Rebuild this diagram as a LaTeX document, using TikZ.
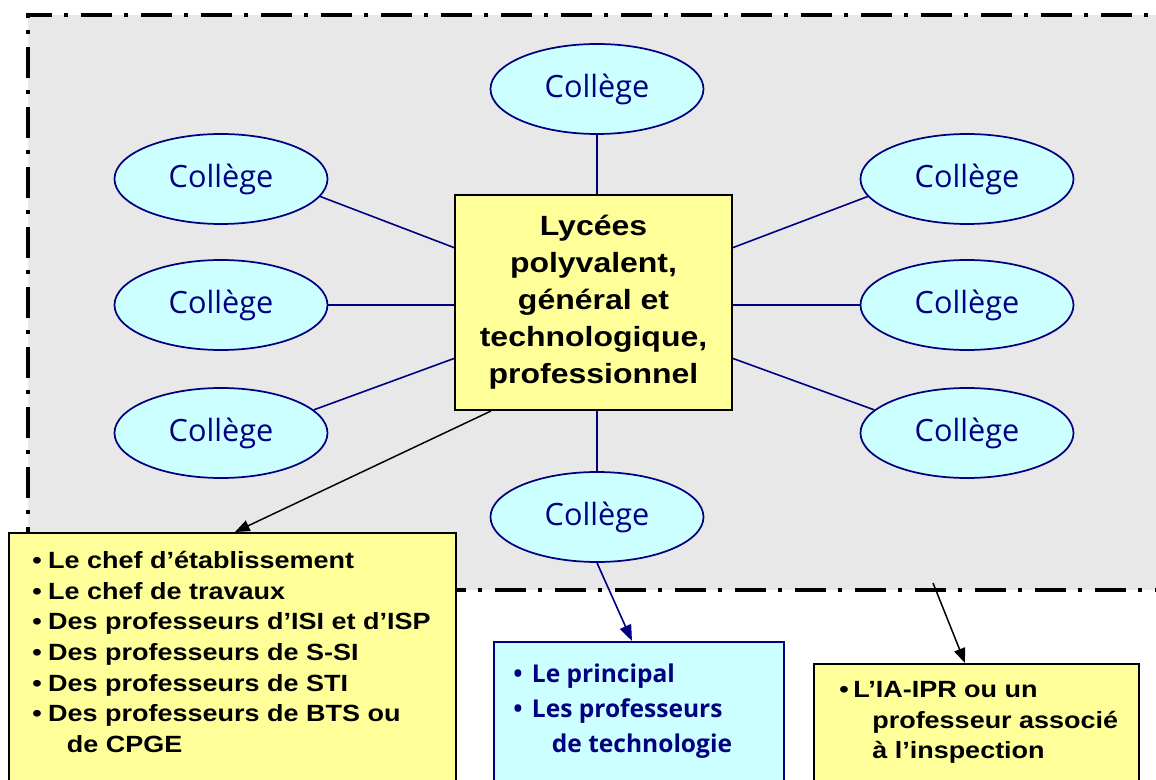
\documentclass[tikz,border=0pt]{standalone}
\usepackage{fontspec}
\usetikzlibrary{shapes.geometric,arrows.meta,calc}
\newfontfamily\arialx[FakeStretch=1.15]{Liberation Sans}
\newfontfamily\comicx{Open Sans}
\definecolor{navyc}{HTML}{000080}
\definecolor{yel}{HTML}{FFFF99}
\definecolor{cyn}{HTML}{CCFFFF}
\definecolor{bgc}{HTML}{E8E8E8}
\newcommand\lycfnt{\arialx\bfseries\fontsize{20.85}{27.75}\selectfont}
\newcommand\yboxfnt{\arialx\bfseries\fontsize{17.6}{23}\selectfont}
\newcommand\midfnt{\comicx\bfseries\fontsize{18.4}{26.25}\selectfont}
\newcommand\collfnt{\comicx\fontsize{23}{27}\selectfont}
\begin{document}
\begin{tikzpicture}[x=0.75pt,y=-0.75pt,
  coll/.style={ellipse, draw=navyc, fill=cyn, line width=1.3pt,
    minimum width=159.75pt, minimum height=67.5pt, inner sep=0pt,
    text=navyc, font=\collfnt},
  link/.style={draw=navyc, line width=1.2pt},
  ddline/.style={line width=3pt, dash pattern=on 23.25pt off 9pt on 3pt off 9.75pt},
  lycbox/.style={draw=black, fill=yel, line width=1.5pt, minimum width=207.75pt,
    minimum height=161.25pt, align=center, font=\lycfnt, inner sep=0pt},
  ybox/.style={draw=black, fill=yel, line width=1.5pt, anchor=north west, inner sep=0pt},
  cbox/.style={draw=navyc, fill=cyn, line width=1.2pt, anchor=north west, inner sep=0pt},
  txt/.style={anchor=north west, inner sep=0pt, align=left},
  blk/.style={draw=black, line width=1.1pt, -{Triangle[length=11pt,width=8.5pt]}},
  nvy/.style={draw=navyc, line width=1.2pt, -{Triangle[length=12pt,width=9pt]}, navyc}
]
\clip (0,0) rectangle (1156,780);
% grey frame
\fill[bgc] (28,15) rectangle (1180,590);
\draw[ddline, dash phase=3.75pt] (26,15) -- (1180,15);
\draw[ddline, dash phase=19.5pt] (28,13) -- (28,590);
\draw[ddline, dash phase=10pt] (28,590) -- (1180,590);

% central box
\node[lycbox] (ly) at (593.5,302.5) {Lycées\\polyvalent,\\général et\\technologique,\\professionnel};

% colleges
\node[coll] (ct) at (597,89) {Collège};
\node[coll] (cl1) at (221,179) {Collège};
\node[coll] (cl2) at (221,305) {Collège};
\node[coll] (cl3) at (221,433) {Collège};
\node[coll] (cr1) at (967,179) {Collège};
\node[coll] (cr2) at (967,305) {Collège};
\node[coll] (cr3) at (967,433) {Collège};
\node[coll] (cb) at (597,517) {Collège};

% links
\draw[link] (ct.south) -- (ct.south |- ly.north);
\draw[link] (cb.north) -- (cb.north |- ly.south);
\draw[link] (cl1.-10.5) -- ($(ly.north west)!0.247!(ly.south west)$);
\draw[link] (cl2.east) -- (cl2.east -| ly.west);
\draw[link] (cl3.14) -- ($(ly.north west)!0.758!(ly.south west)$);
\draw[link] (cr1.190.5) -- ($(ly.north east)!0.247!(ly.south east)$);
\draw[link] (cr2.west) -- (cr2.west -| ly.east);
\draw[link] (cr3.166) -- ($(ly.north east)!0.758!(ly.south east)$);

% bottom boxes
\node[ybox, minimum width=335.25pt, minimum height=195pt] (lb) at (8,532) {};
\node[txt, font=\yboxfnt] (lbt) at (32,551) {%
\makebox[12pt][l]{•}Le chef d’établissement\\
\makebox[12pt][l]{•}Le chef de travaux\\
\makebox[12pt][l]{•}Des professeurs d’ISI et d’ISP\\
\makebox[12pt][l]{•}Des professeurs de S-SI\\
\makebox[12pt][l]{•}Des professeurs de STI\\
\makebox[12pt][l]{•}Des professeurs de BTS ou\\
\hspace*{26pt}de CPGE};

\node[cbox, minimum width=217.5pt, minimum height=120pt] (mb) at (493,641) {};
\node[txt, font=\midfnt, text=navyc] (mbt) at (513,664) {%
\makebox[14pt][l]{•}Le principal\\
\makebox[14pt][l]{•}Les professeurs\\
\hspace*{29pt}de technologie};

\node[ybox, minimum width=243.75pt, minimum height=97.5pt] (rb) at (813,663) {};
\node[txt, font=\yboxfnt] (rbt) at (839,681) {%
\makebox[10.5pt][l]{•}L’IA-IPR ou un\\
\hspace*{24.75pt}professeur associé\\
\hspace*{24.75pt}à l’inspection};

% arrows
\draw[blk] ($(ly.south west)+(37,0)$) -- ($(lb.north west)+(227,0)$);
\draw[nvy] (cb.south) -- ($(mb.north west)+(139,0)$);
\coordinate (rs) at (933,583);
\draw[blk] (rs) -- ($(rb.north west)+(152,0)$);
\end{tikzpicture}
\end{document}
